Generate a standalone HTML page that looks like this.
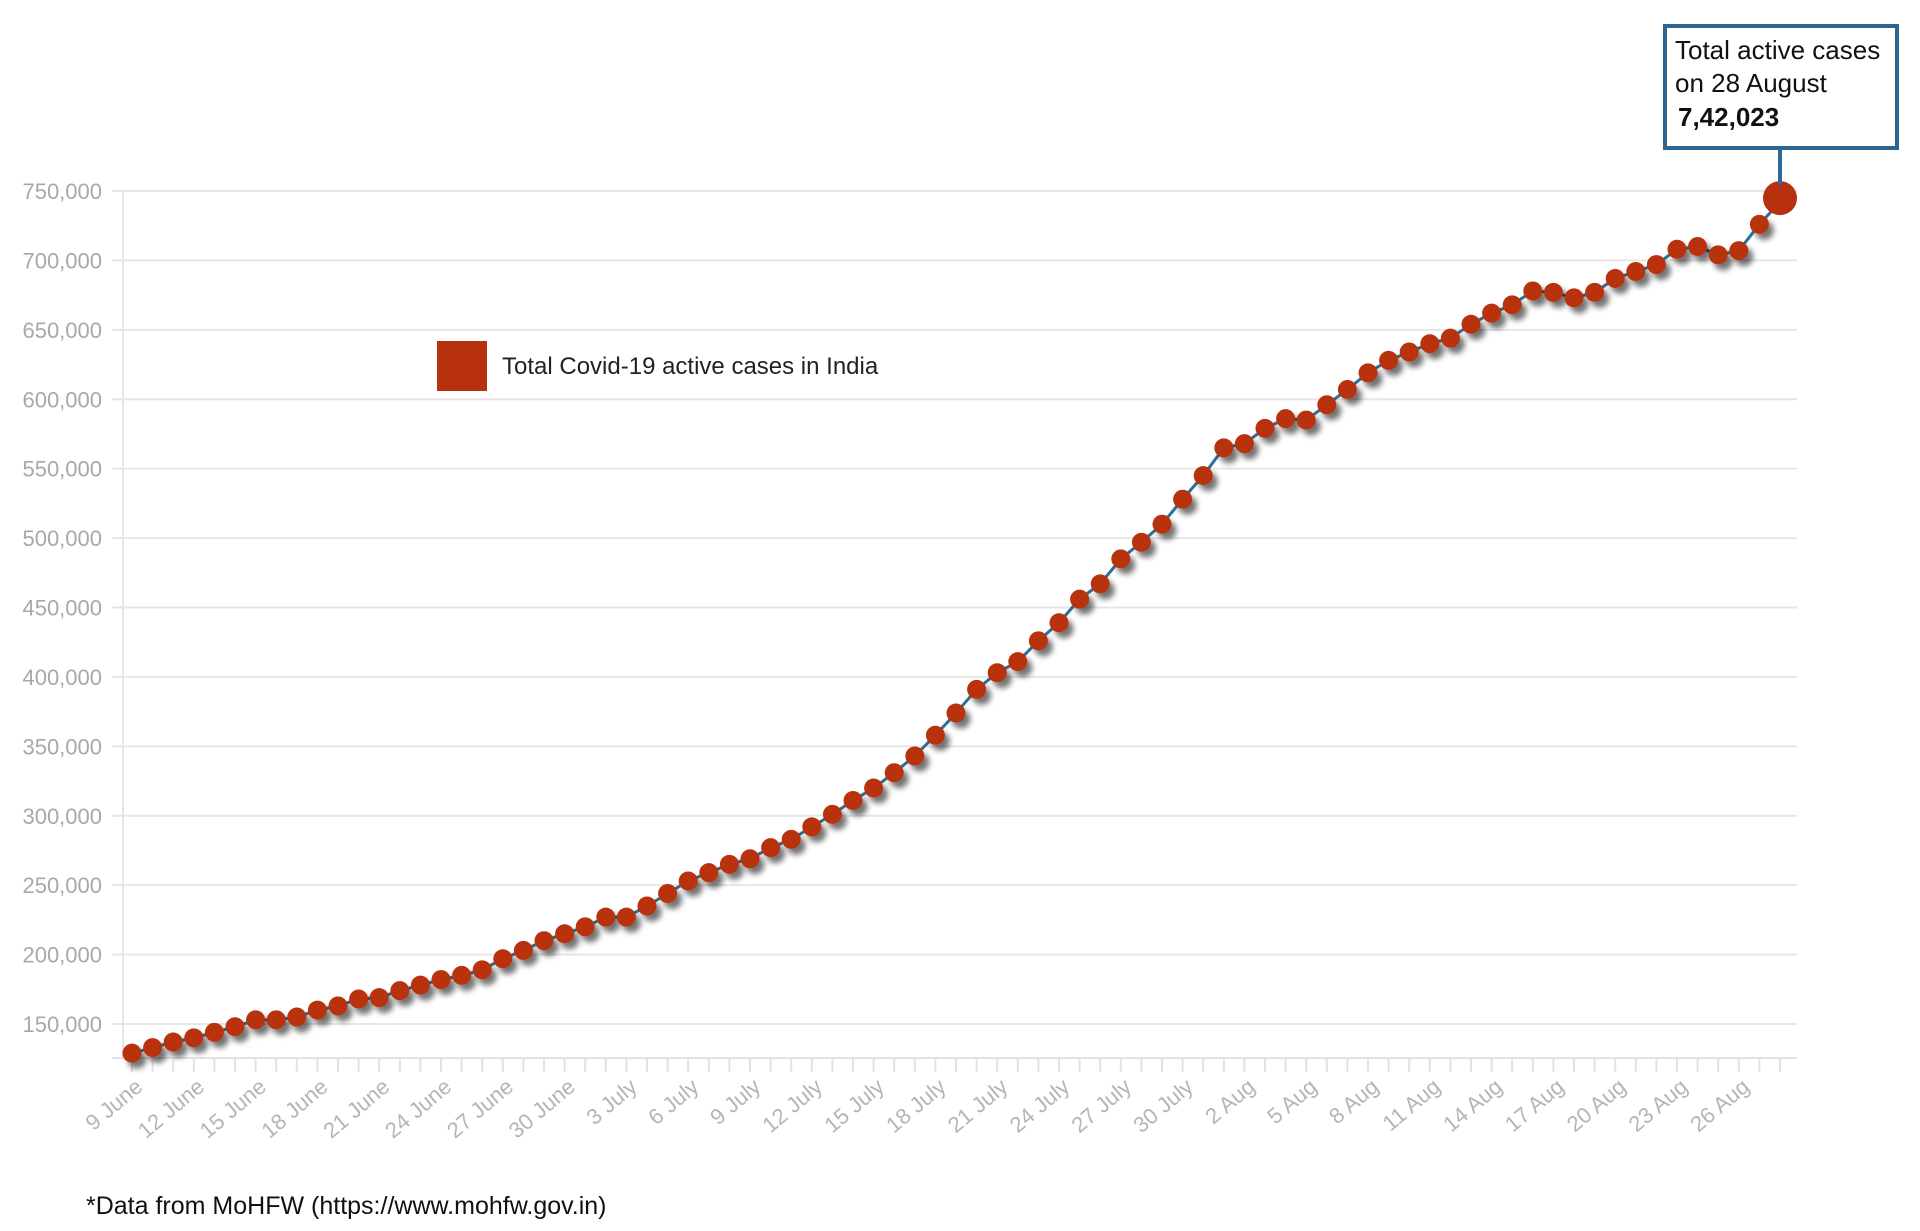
<!DOCTYPE html>
<html><head><meta charset="utf-8"><style>
html,body{margin:0;padding:0;background:#fff;}
svg{display:block;font-family:"Liberation Sans",sans-serif;}
</style></head><body>
<svg id="chart" width="1920" height="1231" viewBox="0 0 1920 1231" xmlns="http://www.w3.org/2000/svg">
<defs>
<filter id="sh" x="-50%" y="-50%" width="250%" height="250%">
<feGaussianBlur in="SourceAlpha" stdDeviation="3"/><feOffset dx="5" dy="6"/>
<feComponentTransfer><feFuncA type="linear" slope="0.55"/></feComponentTransfer>
<feMerge><feMergeNode/><feMergeNode in="SourceGraphic"/></feMerge></filter>
</defs>
<g id="grid"></g>
<g id="yticks"></g>
<g id="xticks"></g>
<g id="series"></g>
<g>
<rect x="437" y="341" width="50" height="50" fill="#b8310f"/>
<text x="502" y="374" font-size="24" fill="#222">Total Covid-19 active cases in India</text>
</g>
<g>
<line x1="1780" y1="148" x2="1780" y2="185" stroke="#2b6a9a" stroke-width="4"/>
<rect x="1665" y="26" width="232" height="122" fill="#fff" stroke="#2e6590" stroke-width="4"/>
<text font-size="26" fill="#111">
<tspan x="1675" y="59">Total active cases</tspan>
<tspan x="1675" y="92">on 28 August</tspan>
<tspan x="1678" y="126" font-weight="bold">7,42,023</tspan></text>
</g>
<text x="86" y="1214" font-size="25" fill="#111">*Data from MoHFW (https://www.mohfw.gov.in)</text>
</svg>
<script>
const dayLabels=["9 June","12 June","15 June","18 June","21 June","24 June","27 June","30 June","3 July","6 July","9 July","12 July","15 July","18 July","21 July","24 July","27 July","30 July","2 Aug","5 Aug","8 Aug","11 Aug","14 Aug","17 Aug","20 Aug","23 Aug","26 Aug"];
const yTicks=[150000,200000,250000,300000,350000,400000,450000,500000,550000,600000,650000,700000,750000];
const activeCases=[129000,133000,137000,140000,144000,148000,153000,153000,155000,160000,163000,168000,169000,174000,178000,182000,185000,189000,197000,203000,210000,215000,220000,227000,227000,235000,244000,253000,259000,265000,269000,277000,283000,292000,301000,311000,320000,331000,343000,358000,374000,391000,403000,411000,426000,439000,456000,467000,485000,497000,510000,528000,545000,565000,568000,579000,586000,585000,596000,607000,619000,628000,634000,640000,644000,654000,662000,668000,678000,677000,673000,677000,687000,692000,697000,708000,710000,704000,707000,726000,742023];
const NS="http://www.w3.org/2000/svg";
const n=activeCases.length;
function xs(i){return 132+i*(1780-132)/(n-1);}
function ys(v){return 1024-(v-150000)*(1024-191)/600000;}
function mk(t,a,p){const e=document.createElementNS(NS,t);for(const k in a)e.setAttribute(k,a[k]);p.appendChild(e);return e;}
const grid=document.getElementById('grid'),yt=document.getElementById('yticks'),xt=document.getElementById('xticks'),se=document.getElementById('series');
yTicks.forEach(v=>{
 const l=mk('line',{x1:112,x2:1797,y1:ys(v),y2:ys(v),stroke:'#e6e6e6','stroke-width':2},grid);
 
 
 const t=mk('text',{x:102,y:ys(v)+8,'text-anchor':'end','font-size':22,fill:'#a8a8a8'},yt);
 
 
 t.textContent=v.toLocaleString('en-US');
});
const ax=mk('line',{x1:123,x2:123,y1:190,y2:1058,stroke:'#e6e6e6','stroke-width':2},grid);


const bx=mk('line',{x1:112,x2:1797,y1:1058,y2:1058,stroke:'#e3e3e3','stroke-width':2},grid);


for(let i=0;i<n;i++){
 const tk=mk('line',{x1:xs(i),x2:xs(i),y1:1058,y2:1072,stroke:'#e3e3e3','stroke-width':2},xt);
 
 
}
dayLabels.forEach((s,k)=>{
 const x=xs(k*3)+12,y=1089;
 const t=mk('text',{x:x,y:y,'text-anchor':'end','font-size':22,fill:'#b5b5b5',transform:`rotate(-40 ${x} ${y})`},xt);
 
 
 t.textContent=s;
});
const pts=activeCases.map((v,i)=>xs(i)+','+ys(v)).join(' ');
const pl=mk('polyline',{points:pts,fill:'none',stroke:'#2f6f96','stroke-width':3},se);


activeCases.forEach((v,i)=>{
 const last=i===n-1;
 const c=mk('circle',{cx:xs(i),cy:ys(v)-(last?4:0),r:last?17:9.5,fill:'#b8310f',filter:last?'':'url(#sh)'},se);
 
 
});
</script>
</body></html>
